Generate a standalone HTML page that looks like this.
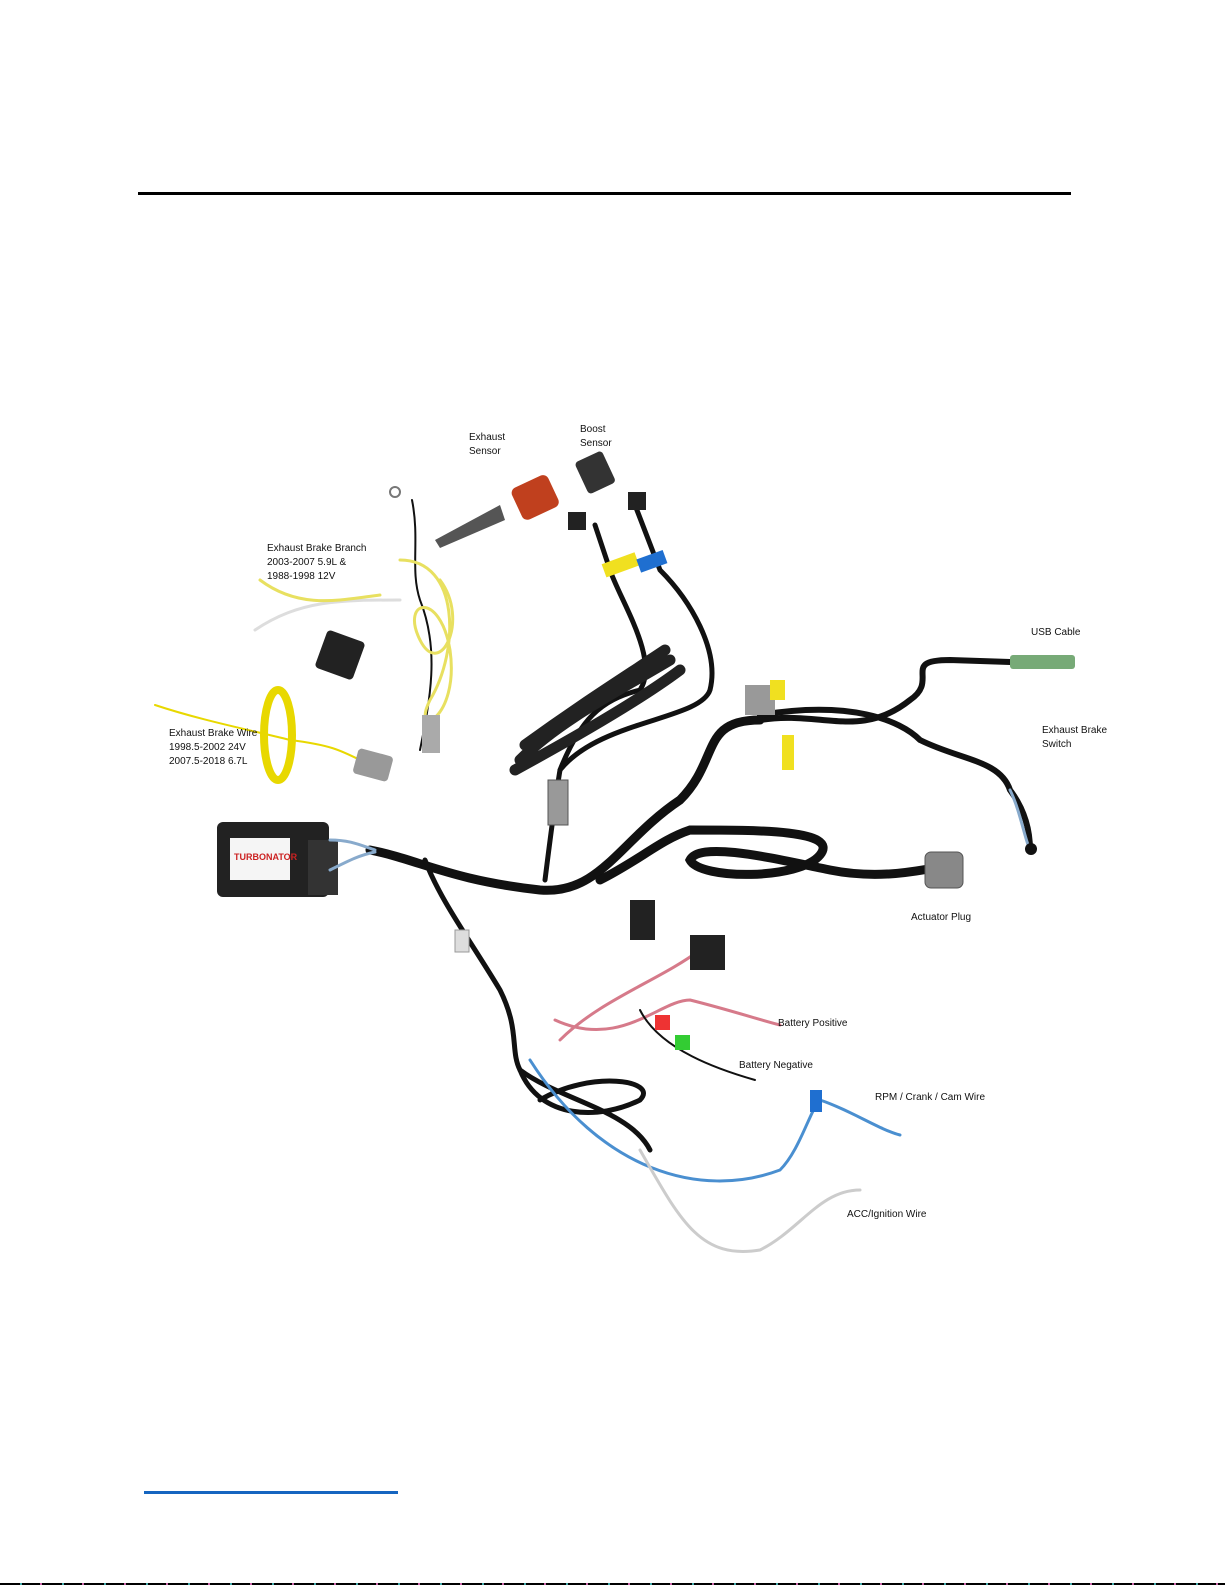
<!DOCTYPE html>
<html><head><meta charset="utf-8"><style>
html,body{margin:0;padding:0;background:#fff;}
body{width:1225px;height:1585px;position:relative;overflow:hidden;font-family:"Liberation Sans",sans-serif;}
.l{position:absolute;font-size:10px;line-height:14px;color:#111;}
</style></head><body>
<div style="position:absolute;left:138px;top:192px;width:933px;height:3px;background:#000"></div>
<div style="position:absolute;left:144px;top:1491px;width:254px;height:3px;background:#1565c0"></div>
<div style="position:absolute;left:0;top:1583px;width:1225px;height:2px;background:repeating-linear-gradient(90deg,#000 0 20px,#4aa 20px 22px,#000 22px 40px,#c6a 40px 42px)"></div>
<svg width="1225" height="1585" style="position:absolute;left:0;top:0" fill="none" stroke-linecap="round">
<!-- main trunk -->
<path d="M370 850 C420 860 450 880 540 890 C600 895 620 840 680 800 C720 760 700 720 760 720" stroke="#111" stroke-width="9"/>
<path d="M760 720 C820 710 860 740 910 700 C940 680 900 660 950 660 L1010 662" stroke="#111" stroke-width="6"/>
<path d="M760 715 C850 700 900 720 920 740 C960 760 1000 760 1010 790 C1025 810 1030 830 1030 850" stroke="#111" stroke-width="6"/>
<path d="M1010 790 C1020 810 1025 840 1030 850" stroke="#8ac" stroke-width="3"/>
<!-- actuator -->
<path d="M600 880 C640 860 660 840 690 830 C760 830 840 830 820 855 C800 880 700 880 690 860 C700 840 780 860 830 870 C880 880 920 870 935 868" stroke="#111" stroke-width="9"/>
<rect x="925" y="852" width="38" height="36" rx="6" fill="#888" stroke="#555"/>
<!-- sensor branch -->
<path d="M545 880 C550 840 555 800 560 770 C580 720 600 700 640 690 C660 660 620 600 610 570 L595 525" stroke="#111" stroke-width="5"/>
<path d="M560 770 C600 720 700 720 710 690 C720 650 690 600 660 570 L635 505" stroke="#111" stroke-width="5"/>
<path d="M520 760 C560 720 620 690 670 660 M515 770 C570 740 640 700 680 670 M525 745 C580 705 620 680 665 650" stroke="#222" stroke-width="11"/>
<rect x="603" y="558" width="35" height="14" fill="#f0e020" transform="rotate(-20 620 565)"/>
<rect x="638" y="555" width="28" height="14" fill="#1f6fd0" transform="rotate(-20 650 562)"/>
<rect x="548" y="780" width="20" height="45" fill="#999" stroke="#555"/>
<!-- exhaust sensor -->
<path d="M435 540 L500 505 L505 520 L440 548 Z" fill="#555"/>
<rect x="515" y="480" width="40" height="35" rx="6" fill="#c0401e" transform="rotate(-25 535 497)"/>
<rect x="580" y="455" width="30" height="35" rx="4" fill="#333" transform="rotate(-25 595 472)"/>
<rect x="568" y="512" width="18" height="18" fill="#222"/>
<rect x="628" y="492" width="18" height="18" fill="#222"/>
<!-- exhaust brake branch -->
<path d="M420 750 C430 700 440 650 420 600 C410 570 420 540 412 500" stroke="#111" stroke-width="2"/>
<path d="M400 560 C460 560 460 650 430 700 C410 740 460 720 450 650 C440 590 400 600 420 640 C440 680 470 620 440 580" stroke="#e8e060" stroke-width="3"/>
<path d="M255 630 C300 600 340 600 400 600" stroke="#ddd" stroke-width="3"/>
<path d="M260 580 C300 610 340 600 380 595" stroke="#e8e060" stroke-width="3"/>
<rect x="320" y="635" width="40" height="40" rx="4" fill="#222" transform="rotate(20 340 655)"/>
<rect x="422" y="715" width="18" height="38" fill="#aaa"/>
<circle cx="395" cy="492" r="5" stroke="#777" stroke-width="2"/>
<!-- exhaust brake wire -->
<path d="M155 705 C200 720 250 730 290 740 C330 745 340 750 360 760" stroke="#e8d800" stroke-width="2"/>
<ellipse cx="278" cy="735" rx="14" ry="45" stroke="#e8d800" stroke-width="8"/>
<rect x="355" y="752" width="36" height="26" rx="4" fill="#999" transform="rotate(15 373 765)"/>
<!-- module -->
<rect x="217" y="822" width="112" height="75" rx="6" fill="#222"/>
<rect x="230" y="838" width="60" height="42" fill="#f5f5f5"/>
<text x="234" y="860" font-family="Liberation Sans" font-size="9" font-weight="bold" fill="#c22">TURBONATOR</text>
<rect x="308" y="840" width="30" height="55" fill="#333"/>
<path d="M330 840 C350 840 360 845 375 850 M330 870 C350 860 360 855 375 852" stroke="#8ac" stroke-width="3"/>
<!-- lower branch -->
<path d="M425 860 C440 900 470 940 500 990 C520 1030 510 1050 520 1070 C560 1100 630 1110 650 1150" stroke="#111" stroke-width="5"/>
<path d="M520 1070 C540 1120 600 1120 640 1100 C660 1080 590 1070 540 1100" stroke="#111" stroke-width="5"/>
<path d="M530 1060 C600 1170 700 1200 780 1170 C800 1150 810 1110 820 1100 C850 1110 880 1130 900 1135" stroke="#4a8fd0" stroke-width="3"/>
<rect x="810" y="1090" width="12" height="22" fill="#1f6fd0"/>
<path d="M640 1150 C680 1220 700 1260 760 1250 C800 1230 820 1190 860 1190" stroke="#ccc" stroke-width="3"/>
<rect x="455" y="930" width="14" height="22" fill="#ddd" stroke="#999"/>
<!-- battery -->
<path d="M560 1040 C600 1000 660 980 700 950 M555 1020 C620 1050 660 1000 690 1000 C730 1010 760 1020 780 1025" stroke="#d67a8a" stroke-width="3"/>
<path d="M640 1010 C660 1050 720 1070 755 1080" stroke="#111" stroke-width="2"/>
<rect x="630" y="900" width="25" height="40" fill="#222"/>
<rect x="690" y="935" width="35" height="35" fill="#222"/>
<rect x="655" y="1015" width="15" height="15" fill="#e33"/>
<rect x="675" y="1035" width="15" height="15" fill="#3c3"/>
<!-- usb -->
<rect x="1010" y="655" width="65" height="14" rx="3" fill="#7a7" />
<rect x="1025" y="843" width="12" height="12" rx="6" fill="#111"/>
<rect x="745" y="685" width="30" height="30" fill="#999"/>
<rect x="782" y="735" width="12" height="35" fill="#f0e020"/>
<rect x="770" y="680" width="15" height="20" fill="#f0e020"/>
</svg>
<div class="l" style="left:469px;top:431px">Exhaust<br>Sensor</div>
<div class="l" style="left:580px;top:423px">Boost<br>Sensor</div>
<div class="l" style="left:267px;top:542px">Exhaust Brake Branch<br>2003-2007 5.9L &amp;<br>1988-1998 12V</div>
<div class="l" style="left:169px;top:727px">Exhaust Brake Wire<br>1998.5-2002 24V<br>2007.5-2018 6.7L</div>
<div class="l" style="left:1031px;top:626px">USB Cable</div>
<div class="l" style="left:1042px;top:724px">Exhaust Brake<br>Switch</div>
<div class="l" style="left:911px;top:911px">Actuator Plug</div>
<div class="l" style="left:778px;top:1017px">Battery Positive</div>
<div class="l" style="left:739px;top:1059px">Battery Negative</div>
<div class="l" style="left:875px;top:1091px">RPM / Crank / Cam Wire</div>
<div class="l" style="left:847px;top:1208px">ACC/Ignition Wire</div>
</body></html>
